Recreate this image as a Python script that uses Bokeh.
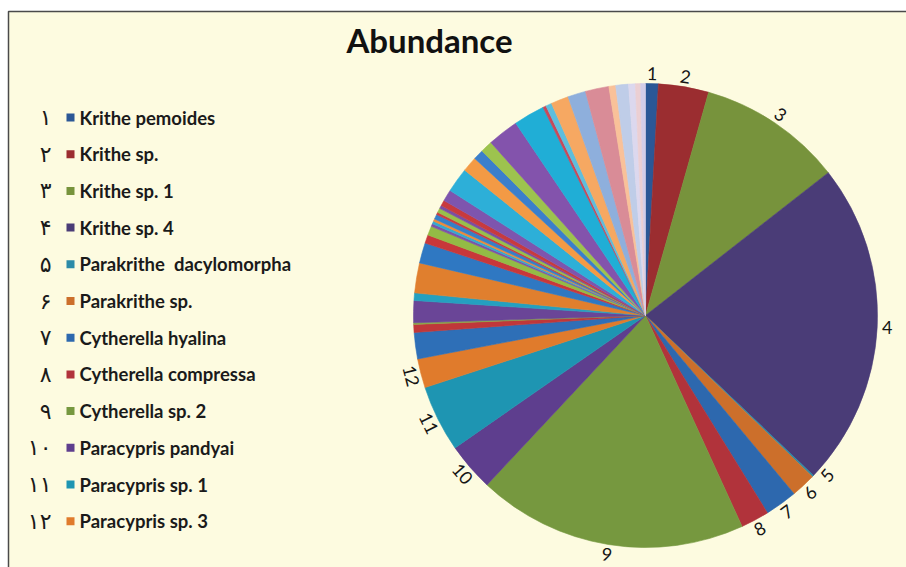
import math

from bokeh.core.properties import value
from bokeh.embed import file_html
from bokeh.models import ColumnDataSource, Range1d
from bokeh.plotting import figure
from bokeh.resources import INLINE

# ---- data -------------------------------------------------------------
species = [
    "Krithe pemoides",
    "Krithe sp.",
    "Krithe sp. 1",
    "Krithe sp. 4",
    "Parakrithe\u00a0 dacylomorpha",
    "Parakrithe sp.",
    "Cytherella hyalina",
    "Cytherella compressa",
    "Cytherella sp. 2",
    "Paracypris pandyai",
    "Paracypris sp. 1",
    "Paracypris sp. 3",
]
persian_numbers = ["۱", "۲", "۳", "۴", "۵", "۶", "۷", "۸", "۹", "۱۰", "۱۱", "۱۲"]
slice_labels = [str(i) for i in range(1, 13)]

# relative abundance of every taxon, in plotting order (first 12 are labelled)
abundance = [
    3.2, 12.6, 36.2, 81.6, 0.4, 6.2, 8.1, 7.1, 67.7, 12.1, 16.7, 7.3,
    6.6, 2.0, 0.4, 5.5, 1.9, 7.5, 5.1, 2.1, 2.3, 0.7, 0.7, 0.6,
    1.2, 0.6, 1.1, 0.8, 1.4, 2.9, 6.2, 3.8, 2.6, 3.0, 7.8, 7.8,
    0.8, 1.5, 4.4, 4.5, 5.9, 1.7, 3.2, 1.7, 1.3, 1.2,
]
slice_colors = [
    "#2B5796", "#9B2D30", "#77933C", "#4A3C77", "#2C8BA8", "#CC6F2B",
    "#2D68AE", "#B1333B", "#76983F", "#5E3E8E", "#1E95B2", "#E07B2C",
    "#2E6FB7", "#C0373A", "#8AA84A", "#6A4597", "#25A0C0", "#E07F2E",
    "#2F78C2", "#C8373A", "#93BB45", "#7D52A8", "#35A9CE", "#EE8A3A",
    "#3680C8", "#CC3B3F", "#98C04B", "#7A4FA3", "#C83A3E", "#7E55AE",
    "#2DAFD8", "#F39A45", "#3B7FCB", "#9DC34E", "#8353AC", "#20AED6",
    "#C8485A", "#5EBEDD", "#F6A862", "#8EAFDC", "#D98C97", "#F9C199",
    "#BFCDE8", "#DCD8EE", "#EBCFD3", "#D3CDE9",
]

# ---- layout -----------------------------------------------------------
W, H = 906, 567
CREAM = "#FDFBE0"
CX, CY_PX, R = 645, 315, 232
CY = H - CY_PX

p = figure(
    width=W, height=H,
    x_range=Range1d(0, W), y_range=Range1d(0, H),
    output_backend="svg", toolbar_location=None, min_border=0,
)
p.axis.visible = False
p.grid.visible = False
p.outline_line_color = None
p.background_fill_color = "white"
p.border_fill_color = "white"

# chart frame
p.quad(left=8, right=W + 30, top=H - 11, bottom=-30,
       fill_color=CREAM, line_color="#4a4a4a", line_width=1.5)

# ---- pie ---------------------------------------------------------------
total = sum(abundance)
starts, ends, mids = [], [], []
acc = 0.0
for v in abundance:
    a0 = acc / total * 360.0
    acc += v
    a1 = acc / total * 360.0
    # clockwise from 12 o'clock -> bokeh's anticlockwise-from-east radians
    starts.append(math.radians(90.0 - a1))
    ends.append(math.radians(90.0 - a0))
    mids.append((a0 + a1) / 2.0)

pie = ColumnDataSource(dict(start=starts, end=ends, color=slice_colors))
p.wedge(x=CX, y=CY, radius=R, start_angle="start", end_angle="end",
        fill_color="color", line_color="color", line_width=0.6, source=pie)

# slice number labels around the rim, turned to follow the circle
LR = R + 10
lx, ly, lang = [], [], []
for k in range(len(slice_labels)):
    th = mids[k]
    if k == 4:
        th -= 2.5  # nudge the tiny slice's label away from its neighbour
    lx.append(CX + LR * math.sin(math.radians(th)))
    ly.append(CY + LR * math.cos(math.radians(th)))
    if abs(th - 90) < 15:
        rot = 0.0
    elif 90 < th < 270:
        rot = th - 180.0
    else:
        rot = th if th < 90 else th - 360.0
    lang.append(-math.radians(rot))

p.text(x=lx, y=ly, text=slice_labels, angle=lang,
       text_font=value("Lato"), text_font_size="18px", text_color="#151515",
       text_align="center", text_baseline="middle")

# ---- title -------------------------------------------------------------
p.text(x=[429], y=[H - 39], text=["Abundance"],
       text_font=value("Lato"), text_font_style="bold", text_font_size="33px",
       text_color="#111111", text_align="center", text_baseline="middle")

# ---- legend ------------------------------------------------------------
row_y = [H - (117 + i * 36.7) for i in range(len(species))]
p.text(x=[51] * len(species), y=row_y, text=persian_numbers,
       text_font=value("DejaVu Sans"), text_font_size="22px", text_color="#1a1a1a",
       text_align="right", text_baseline="middle")
p.rect(x=[70] * len(species), y=row_y, width=8, height=8,
       fill_color=slice_colors[:len(species)], line_color=None)
p.text(x=[79] * len(species), y=row_y, text=species,
       text_font=value("Lato"), text_font_style="bold", text_font_size="18.5px",
       text_color="#1a1a1a", text_align="left", text_baseline="middle")

open("out.html", "w").write(file_html(p, INLINE))
